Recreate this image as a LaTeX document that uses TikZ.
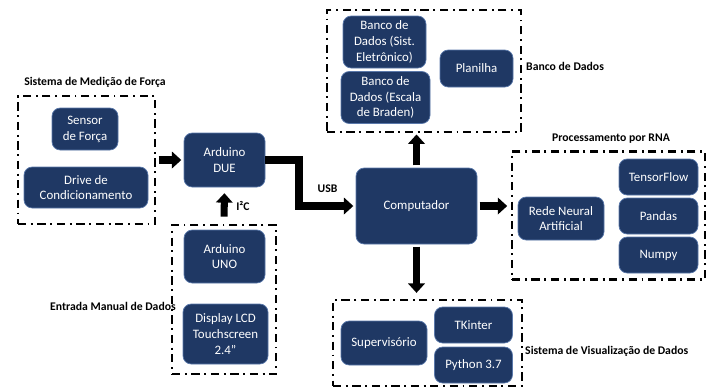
\documentclass[tikz,border=0pt]{standalone}
\usepackage{fontspec}
\setmainfont{Carlito}
\usetikzlibrary{arrows.meta}
\definecolor{boxfill}{RGB}{31,56,100}
\definecolor{boxline}{RGB}{90,120,170}
\begin{document}
\begin{tikzpicture}[x=0.03cm, y=-0.03cm]
            \tikzset{
                mynode/.style = {rectangle, rounded corners=7pt, line width=0.6pt, inner sep=0pt, text centered, align=center, draw=boxline, fill=boxfill, text=white, font=\fontsize{11}{13.5}\selectfont},
                group/.style = {rectangle, inner sep=0pt, draw=black, line width=2.2pt, dash pattern=on 7pt off 4pt on 1.6pt off 4pt},
                grouplabel/.style = {font=\fontsize{10}{12}\selectfont\bfseries, inner sep=0pt},
                arrow/.style = {line width=6pt, -{Triangle[width=14pt,length=8pt]}}
            }
            \useasboundingbox (0,0) rectangle (710,388);

            % Sistema de Medicao de Forca
            \node (grpmed) [group, minimum width=137*0.03cm, minimum height=128*0.03cm] at (86.5,160) {};
            \node (grpmedLabel) [grouplabel] at (95,82) {Sistema de Medição de Força};
            \node (sensor) [mynode, minimum width=66*0.03cm, minimum height=42*0.03cm] at (85,129) {Sensor\\de Força};
            \node (drive) [mynode, minimum width=124*0.03cm, minimum height=41*0.03cm] at (86,187.5) {Drive de\\Condicionamento};

            \node (due) [mynode, minimum width=81*0.03cm, minimum height=54*0.03cm] at (224.5,160) {Arduino\\DUE};

            % Entrada Manual de Dados
            \node (grpent) [group, minimum width=104*0.03cm, minimum height=149*0.03cm] at (224,299.5) {};
            \node (grpentLabel) [grouplabel, anchor=east] at (176,306) {Entrada Manual de Dados};
            \node (uno) [mynode, minimum width=81*0.03cm, minimum height=53*0.03cm] at (224.5,256.5) {Arduino\\UNO};
            \node (lcd) [mynode, minimum width=85*0.03cm, minimum height=60*0.03cm] at (225.5,334) {Display LCD\\Touchscreen\\2.4”};

            \node (comp) [mynode, minimum width=121*0.03cm, minimum height=76*0.03cm] at (416.5,206) {Computador};

            % Banco de Dados
            \node (grpbd) [group, minimum width=194*0.03cm, minimum height=122*0.03cm] at (424,71) {};
            \node (grpbdLabel) [grouplabel, anchor=west] at (526,66) {Banco de Dados};
            \node (bdsist) [mynode, minimum width=83*0.03cm, minimum height=52*0.03cm] at (384.5,42) {Banco de\\Dados (Sist.\\Eletrônico)};
            \node (bdbrad) [mynode, minimum width=89*0.03cm, minimum height=52*0.03cm] at (385.5,97.5) {Banco de\\Dados (Escala\\de Braden)};
            \node (planilha) [mynode, minimum width=73*0.03cm, minimum height=37*0.03cm] at (476.5,68.5) {Planilha};

            % Processamento por RNA
            \node (grprna) [group, minimum width=193*0.03cm, minimum height=128*0.03cm] at (608.5,215.5) {};
            \node (grprnaLabel) [grouplabel] at (611,139) {Processamento por RNA};
            \node (rna) [mynode, minimum width=86*0.03cm, minimum height=43*0.03cm] at (561,218.5) {Rede Neural\\Artificial};
            \node (tf) [mynode, minimum width=79*0.03cm, minimum height=36*0.03cm] at (658.5,177) {TensorFlow};
            \node (pandas) [mynode, minimum width=79*0.03cm, minimum height=36*0.03cm] at (658.5,216) {Pandas};
            \node (numpy) [mynode, minimum width=79*0.03cm, minimum height=36*0.03cm] at (658.5,255) {Numpy};

            % Sistema de Visualizacao de Dados
            \node (grpvis) [group, minimum width=189*0.03cm, minimum height=86*0.03cm] at (427.5,343) {};
            \node (grpvisLabel) [grouplabel, anchor=west] at (525,351) {Sistema de Visualização de Dados};
            \node (sup) [mynode, minimum width=86*0.03cm, minimum height=44*0.03cm] at (384,343) {Supervisório};
            \node (tk) [mynode, minimum width=78*0.03cm, minimum height=36*0.03cm] at (473.5,325) {TKinter};
            \node (py) [mynode, minimum width=78*0.03cm, minimum height=36*0.03cm] at (473.5,365) {Python 3.7};

            \draw [arrow, shorten <=2pt, shorten >=2pt] (grpmed) -- (due);
            \draw [arrow, shorten <=6pt, shorten >=5pt] (grpent.north) -- (due.south) node [pos=0.5, right, xshift=4pt, font=\fontsize{10}{12}\selectfont\bfseries] {I²C};
            \draw [arrow, line width=7pt, shorten >=2pt] (due.east) -- ++(34,0) |- (comp.west) node [pos=0.75, above, yshift=5pt, font=\fontsize{10}{12}\selectfont\bfseries] {USB};
            \draw [arrow, shorten <=2pt, shorten >=1pt] (comp.north) -- (comp.north |- grpbd.south);
            \draw [arrow, shorten <=2pt, shorten >=3pt] (comp.east) -- (comp.east -| grprna.west);
            \draw [arrow, shorten <=2pt, shorten >=5pt] (comp.south) -- (comp.south |- grpvis.north);
        \end{tikzpicture}
\end{document}
